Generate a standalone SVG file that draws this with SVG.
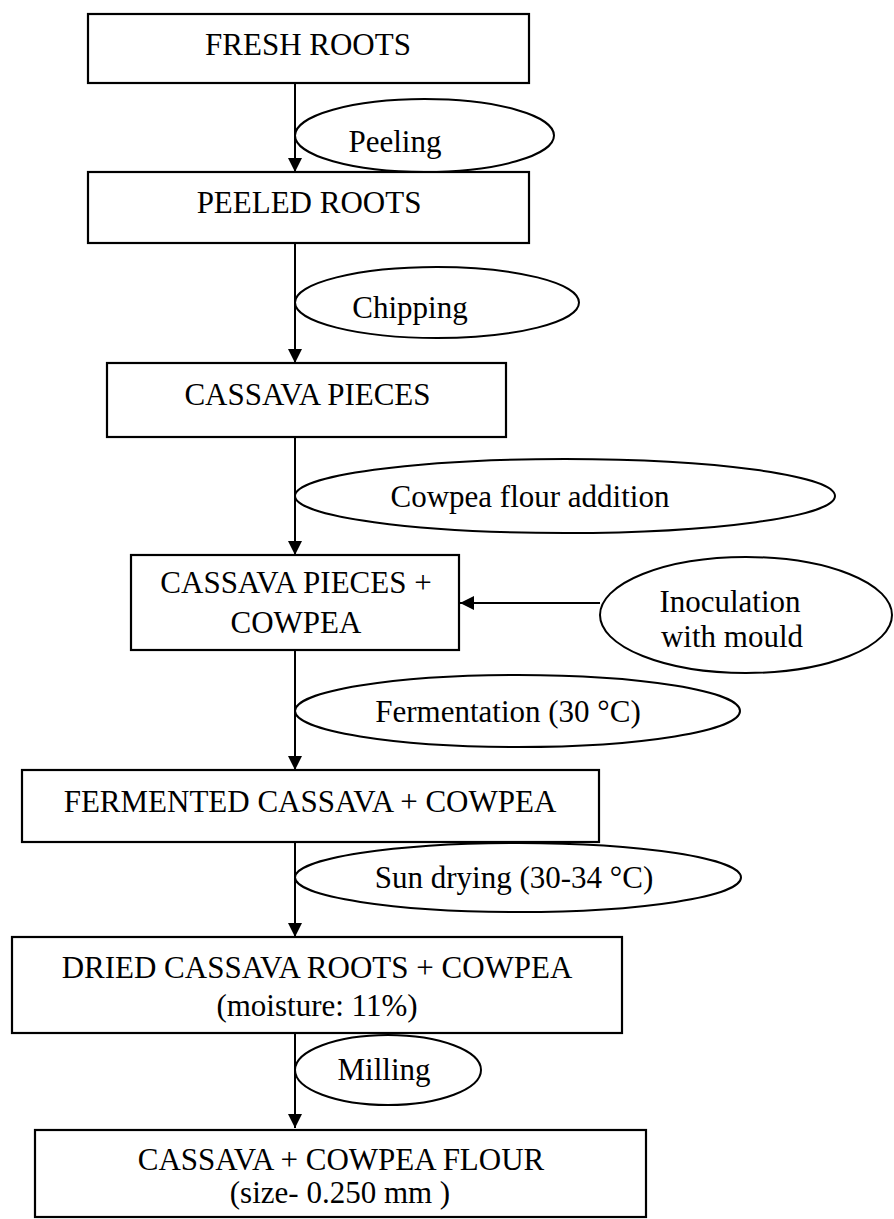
<svg xmlns="http://www.w3.org/2000/svg" width="894" height="1219" viewBox="0 0 894 1219">
<defs>
<style>
.box{fill:#fff;stroke:#000;stroke-width:2.2}
.ell{fill:none;stroke:#000;stroke-width:2}
.t{font-family:"Liberation Serif","Times New Roman",serif;font-size:31px;fill:#000;text-anchor:middle}
.ln{stroke:#000;stroke-width:2;fill:none}
</style>
<marker id="ah" markerWidth="14" markerHeight="16" refX="14" refY="8" orient="auto" markerUnits="userSpaceOnUse">
<path d="M0,1 L14,8 L0,15 Z" fill="#000"/>
</marker>
</defs>
<rect width="894" height="1219" fill="#fff"/>
<g id="connectors">
<line class="ln" x1="295" y1="83" x2="295" y2="172" marker-end="url(#ah)"/>
<line class="ln" x1="295" y1="243" x2="295" y2="363" marker-end="url(#ah)"/>
<line class="ln" x1="295" y1="437" x2="295" y2="555" marker-end="url(#ah)"/>
<line class="ln" x1="295" y1="650" x2="295" y2="770" marker-end="url(#ah)"/>
<line class="ln" x1="295" y1="842" x2="295" y2="937" marker-end="url(#ah)"/>
<line class="ln" x1="295" y1="1033" x2="295" y2="1128" marker-end="url(#ah)"/>
<line class="ln" x1="600" y1="603" x2="460" y2="603" marker-end="url(#ah)"/>
</g>
<g id="fresh-roots">
<rect class="box" x="88" y="14" width="441" height="69"/>
<text class="t" x="308" y="55">FRESH ROOTS</text>
</g>
<g id="peeling">
<ellipse class="ell" cx="424.5" cy="135.5" rx="129.5" ry="36.5"/>
<text class="t" x="395" y="152">Peeling</text>
</g>
<g id="peeled-roots">
<rect class="box" x="88" y="172" width="441" height="71"/>
<text class="t" x="309" y="213">PEELED ROOTS</text>
</g>
<g id="chipping">
<ellipse class="ell" cx="437" cy="302.5" rx="142" ry="35.5"/>
<text class="t" x="410" y="318">Chipping</text>
</g>
<g id="cassava-pieces">
<rect class="box" x="107" y="363" width="399" height="74"/>
<text class="t" x="307.5" y="405">CASSAVA PIECES</text>
</g>
<g id="cowpea-addition">
<ellipse class="ell" cx="565" cy="496" rx="270" ry="37"/>
<text class="t" x="530" y="507">Cowpea flour addition</text>
</g>
<g id="cassava-cowpea">
<rect class="box" x="131" y="555" width="328" height="95"/>
<text class="t" x="296" y="593">CASSAVA PIECES +</text>
<text class="t" x="296" y="633">COWPEA</text>
</g>
<g id="inoculation">
<ellipse class="ell" cx="746" cy="615" rx="146" ry="58"/>
<text class="t" x="730" y="612">Inoculation</text>
<text class="t" x="732" y="647">with mould</text>
</g>
<g id="fermentation">
<ellipse class="ell" cx="517.5" cy="711" rx="222.5" ry="36"/>
<text class="t" x="508" y="722">Fermentation (30 °C)</text>
</g>
<g id="fermented">
<rect class="box" x="22" y="770" width="577" height="72"/>
<text class="t" x="310" y="812">FERMENTED CASSAVA + COWPEA</text>
</g>
<g id="sun-drying">
<ellipse class="ell" cx="518" cy="877.5" rx="223" ry="34.5"/>
<text class="t" x="514" y="888">Sun drying (30-34 °C)</text>
</g>
<g id="dried">
<rect class="box" x="12" y="937" width="610" height="96"/>
<text class="t" x="317" y="978">DRIED CASSAVA ROOTS + COWPEA</text>
<text class="t" x="317" y="1016">(moisture: 11%)</text>
</g>
<g id="milling">
<ellipse class="ell" cx="388" cy="1070" rx="93" ry="35"/>
<text class="t" x="384" y="1080">Milling</text>
</g>
<g id="flour">
<rect class="box" x="35" y="1130" width="611" height="87"/>
<text class="t" x="341" y="1170">CASSAVA + COWPEA FLOUR</text>
<text class="t" x="340" y="1203">(size- 0.250 mm )</text>
</g>
</svg>
